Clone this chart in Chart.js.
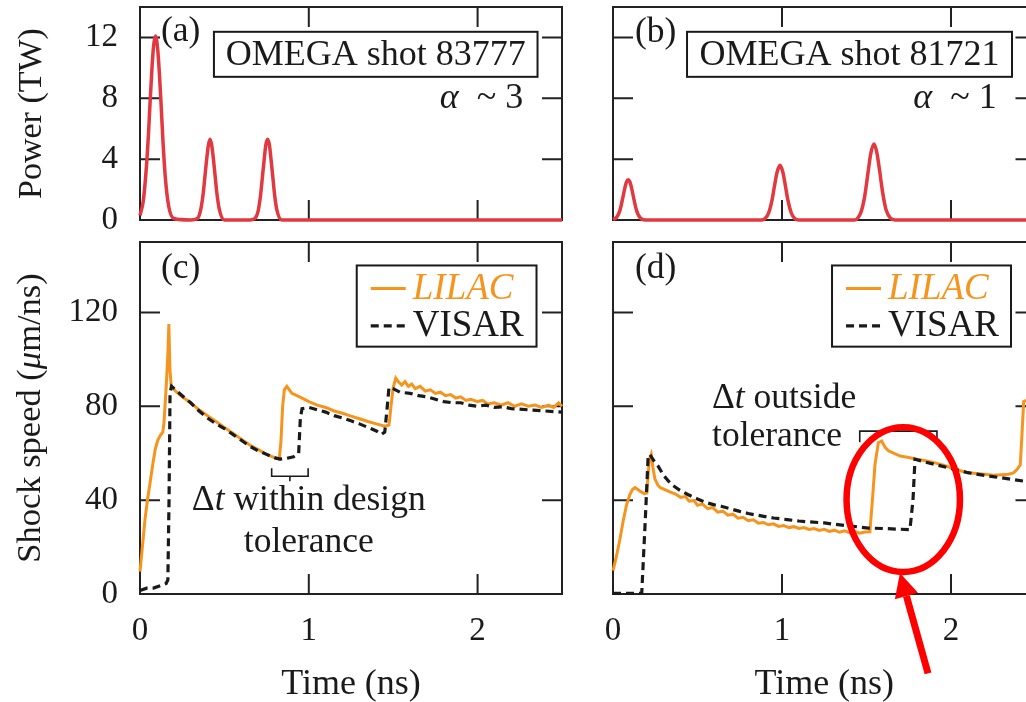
<!DOCTYPE html>
<html>
<head>
<meta charset="utf-8">
<script src="https://cdn.jsdelivr.net/npm/chart.js@4.4.1/dist/chart.umd.min.js"></script>
<style>
  html, body { margin: 0; padding: 0; background: #fff; overflow: hidden; width: 1026px; height: 702px; }
  canvas { position: absolute; }
  #pa { left: 0; top: 0; }
  #pb { left: 580px; top: 0; }
  #pc { left: 0; top: 230px; }
  #pd { left: 580px; top: 230px; }
</style>
</head>
<body>
<canvas id="pa" width="600" height="245"></canvas>
<canvas id="pb" width="470" height="245"></canvas>
<canvas id="pc" width="600" height="472"></canvas>
<canvas id="pd" width="470" height="472"></canvas>
<script>
// ticks
const timeTicks = [0, 1, 2];
const powerTicks = [0, 4, 8, 12];
const speedTicks = [0, 40, 80, 120];

// (a) laser power, shot 83777
const powerTimeA = [0, 0.02, 0.04, 0.05, 0.06, 0.07, 0.08, 0.092, 0.105, 0.115, 0.125, 0.135, 0.15, 0.17, 0.2, 0.3,
    0.34, 0.36, 0.375, 0.385, 0.395, 0.405, 0.415, 0.425, 0.435, 0.445, 0.455, 0.47, 0.5, 0.65,
    0.68, 0.7, 0.715, 0.725, 0.735, 0.745, 0.756, 0.767, 0.777, 0.787, 0.797, 0.81, 0.84, 1.0, 1.5, 2.0, 2.5];
const powerA = [0.3, 1.3, 3.8, 5.6, 7.8, 9.8, 11.4, 12.1, 11.2, 9.6, 7.6, 5.4, 2.8, 0.9, 0.1, 0,
    0.1, 0.7, 1.8, 2.9, 4.0, 4.9, 5.3, 4.9, 4.0, 2.9, 1.8, 0.7, 0, 0,
    0.1, 0.6, 1.7, 2.8, 3.9, 4.9, 5.3, 4.9, 3.9, 2.8, 1.7, 0.7, 0, 0, 0, 0, 0];

// (b) laser power, shot 81721
const powerTimeB = [0, 0.02, 0.04, 0.055, 0.07, 0.08, 0.09, 0.1, 0.11, 0.125, 0.14, 0.16, 0.19, 0.5, 0.88,
    0.9, 0.92, 0.94, 0.955, 0.97, 0.988, 1.005, 1.02, 1.035, 1.055, 1.075, 1.1, 1.43,
    1.45, 1.47, 1.49, 1.51, 1.525, 1.544, 1.56, 1.575, 1.595, 1.615, 1.64, 1.67, 2.0, 2.5];
const powerB = [0.05, 0.15, 0.6, 1.3, 2.1, 2.5, 2.65, 2.5, 2.1, 1.3, 0.6, 0.15, 0, 0, 0,
    0.1, 0.43, 1.25, 2.2, 3.1, 3.6, 3.15, 2.25, 1.3, 0.46, 0.1, 0, 0,
    0.15, 0.6, 1.6, 3.2, 4.35, 5.0, 4.5, 3.45, 1.85, 0.7, 0.14, 0, 0, 0];

// (c) shock speed, shot 83777
const lilacTimeC = [0, 0.01, 0.02, 0.03, 0.045, 0.06, 0.075, 0.09, 0.105, 0.12, 0.135, 0.142, 0.155, 0.165, 0.171, 0.177, 0.185,
    0.21, 0.25, 0.3, 0.35, 0.4, 0.45, 0.5, 0.55, 0.6, 0.65, 0.7, 0.75, 0.8, 0.825,
    0.835, 0.845, 0.855, 0.87, 0.885, 0.9, 0.93, 0.96, 1.0, 1.05, 1.1, 1.15, 1.2, 1.25, 1.3, 1.35, 1.4, 1.45, 1.475,
    1.49, 1.5, 1.515, 1.53, 1.55, 1.57, 1.59, 1.61, 1.63, 1.66, 1.69, 1.72, 1.75, 1.78, 1.81, 1.84, 1.87, 1.9,
    1.93, 1.96, 2.0, 2.03, 2.06, 2.1, 2.14, 2.18, 2.22, 2.26, 2.3, 2.34, 2.38, 2.42, 2.45, 2.48, 2.5];
const lilacC = [9.5, 17, 24.5, 32, 40.5, 47.5, 55, 61.5, 65.5, 67.5, 69, 73, 88, 102, 115, 96, 88.5,
    86.5, 84, 81.5, 78.5, 76, 73.5, 71, 68.5, 66, 63.5, 61.5, 59.5, 58, 57.5,
    65, 80, 87, 88.5, 87, 85.5, 84.5, 83.5, 82, 80.5, 79.5, 78, 77, 75.8, 74.7, 73.5, 72.5, 71.5, 72,
    82, 88, 92, 90.5, 89, 90.5, 88.5, 89.5, 87.5, 88.5, 86.5, 87, 85.5, 86, 84.5, 85, 83.5, 84,
    82.5, 83, 82, 82.5, 81, 81.5, 80.5, 81.5, 80, 81, 80, 80.5, 79.5, 80.5, 79.5, 81.5, 80];
const visarTimeC = [0, 0.04, 0.08, 0.12, 0.155, 0.165, 0.172, 0.178, 0.187, 0.21, 0.25, 0.3, 0.35, 0.4, 0.45, 0.5,
    0.55, 0.6, 0.65, 0.7, 0.75, 0.8, 0.83, 0.87, 0.91, 0.94, 0.95, 0.96, 1.0, 1.05, 1.1, 1.15, 1.2,
    1.25, 1.3, 1.35, 1.4, 1.43, 1.45, 1.465, 1.475, 1.5, 1.54, 1.6, 1.65, 1.7, 1.75, 1.8, 1.85, 1.9,
    1.95, 2.0, 2.05, 2.1, 2.15, 2.2, 2.3, 2.4, 2.5];
const visarC = [1.5, 2.5, 2.5, 3.5, 4.5, 6, 40, 86, 88.5, 87, 84.5, 81.5, 78, 75, 72.5, 70.5,
    68, 65.5, 63, 61, 59.5, 58, 57.5, 57.8, 58.5, 60, 75, 79, 79.5, 78.5, 77.5, 76, 75,
    73.8, 72.5, 71, 69.5, 68, 69, 80, 88, 87.5, 86, 85.5, 84.5, 84, 83, 82, 81.5, 81.5,
    80.5, 80, 80.5, 79.5, 79.8, 79, 78.5, 78, 77.5];

// (d) shock speed, shot 81721
const lilacTimeD = [0, 0.02, 0.04, 0.06, 0.08, 0.1, 0.115, 0.13, 0.145, 0.165, 0.185, 0.2, 0.207, 0.215, 0.226, 0.236,
    0.248, 0.265, 0.28, 0.31, 0.34, 0.37, 0.4, 0.43, 0.45, 0.48, 0.5, 0.53, 0.56, 0.59, 0.62, 0.65, 0.68,
    0.71, 0.74, 0.77, 0.8, 0.83, 0.86, 0.89, 0.92, 0.95, 0.98, 1.01, 1.04, 1.07, 1.1, 1.13, 1.16, 1.19,
    1.22, 1.25, 1.28, 1.31, 1.34, 1.37, 1.4, 1.43, 1.46, 1.49, 1.52, 1.535, 1.55, 1.57, 1.59, 1.61, 1.63,
    1.66, 1.7, 1.75, 1.8, 1.85, 1.9, 1.95, 2.0, 2.05, 2.1, 2.15, 2.2, 2.25, 2.3, 2.34, 2.37, 2.39, 2.41,
    2.42, 2.43, 2.5];
const lilacD = [10, 16, 23, 31, 38, 42.4, 44.5, 45.3, 44.6, 43.6, 42.8, 43, 50, 57.4, 59.5, 54,
    49, 46.5, 45.3, 44.4, 43.4, 42.6, 41.2, 41.5, 39.6, 39.8, 37.8, 38.3, 36.4, 36.8, 34.9, 35.3, 33.6,
    34, 32.3, 32.7, 31.2, 31.6, 30.2, 30.5, 29.5, 29.9, 28.8, 29.2, 28.3, 28.7, 27.9, 28.3, 27.5, 27.9,
    27.1, 27.6, 26.7, 27.2, 26.3, 26.9, 26.1, 26.6, 25.9, 26.4, 26.5, 40, 55, 64.5, 65.2, 62.5, 61,
    60, 58.8, 58.2, 57.4, 56.8, 56, 55, 53.8, 52.6, 51.7, 51.4, 51, 50.6, 50.8, 51, 51.6, 53, 55,
    68, 82, 84];
const visarTimeD = [0, 0.1, 0.17, 0.19, 0.208, 0.218, 0.24, 0.267, 0.3, 0.345, 0.4, 0.443, 0.5, 0.55, 0.6, 0.64,
    0.7, 0.75, 0.8, 0.835, 0.9, 0.95, 1.03, 1.1, 1.15, 1.25, 1.3, 1.4, 1.51, 1.6, 1.7, 1.757, 1.775,
    1.787, 1.85, 1.9, 2.0, 2.1, 2.2, 2.3, 2.43, 2.5];
const visarD = [0.3, 0.3, 0.3, 30, 58.8, 59.5, 57, 54.5, 50.5, 46.7, 44, 42.4, 40.5, 39, 38, 37.4,
    36.2, 35.2, 34.3, 33.8, 33, 32.4, 31.7, 31.1, 30.8, 30.3, 29.8, 29, 28.1, 27.9, 27.6, 27.4, 40,
    57.4, 56.2, 55.3, 53.5, 51.7, 50.5, 49.5, 48.1, 47.5];

const SERIF = "'Liberation Serif', 'Times New Roman', serif";
const INK = '#1a1a1a';
const RED = '#e2383f';
const ORANGE = '#f7941d';

Chart.defaults.font.family = SERIF;
Chart.defaults.font.size = 33;
Chart.defaults.color = INK;

function pts(t, v) {
    return t.map((x, i) => ({ x: x, y: v[i] }));
}

function richText(ctx, parts, x, y, align, size) {
    size = size || 35.5;
    let w = 0;
    parts.forEach(p => {
        ctx.font = (p.i ? 'italic ' : '') + size + 'px ' + SERIF;
        p.w = ctx.measureText(p.t).width;
        w += p.w;
    });
    let cx = align === 'center' ? x - w / 2 : align === 'right' ? x - w : x;
    ctx.textBaseline = 'middle';
    ctx.textAlign = 'left';
    parts.forEach(p => {
        ctx.font = (p.i ? 'italic ' : '') + size + 'px ' + SERIF;
        ctx.fillStyle = p.c || INK;
        ctx.fillText(p.t, cx, y);
        cx += p.w;
    });
    return w;
}

// frame with inward ticks on all four sides
const framePlugin = {
    id: 'frame',
    beforeDatasetsDraw(chart) {
        const { ctx, chartArea: a, scales: { x, y } } = chart;
        ctx.save();
        ctx.strokeStyle = '#222';
        ctx.lineWidth = 2;
        ctx.strokeRect(a.left, a.top, a.right - a.left, a.bottom - a.top);
        ctx.beginPath();
        x.ticks.forEach(t => {
            const px = x.getPixelForValue(t.value);
            if (px <= a.left + 2 || px >= a.right - 2) return;
            ctx.moveTo(px, a.bottom); ctx.lineTo(px, a.bottom - 20);
            ctx.moveTo(px, a.top); ctx.lineTo(px, a.top + 20);
        });
        y.ticks.forEach(t => {
            const py = y.getPixelForValue(t.value);
            if (py <= a.top + 2 || py >= a.bottom - 2) return;
            ctx.moveTo(a.left, py); ctx.lineTo(a.left + 20, py);
            ctx.moveTo(a.right, py); ctx.lineTo(a.right - 20, py);
        });
        ctx.stroke();
        ctx.restore();
    }
};

function makeOptions(opt) {
    return {
        responsive: false,
        animation: false,
        devicePixelRatio: 1,
        layout: { padding: { top: opt.top, right: opt.right, left: 0, bottom: 0 } },
        plugins: { legend: { display: false }, tooltip: { enabled: false } },
        elements: { point: { radius: 0 } },
        scales: {
            x: {
                type: 'linear', min: 0, max: 2.5,
                afterBuildTicks: s => { s.ticks = timeTicks.map(v => ({ value: v })); },
                afterFit: s => { s.height = opt.xHeight; s.paddingLeft = 0; s.paddingRight = 0; },
                grid: { display: false, drawTicks: false },
                border: { display: false },
                ticks: { display: opt.xLabels, padding: 18, maxRotation: 0 },
                title: {
                    display: opt.xLabels, text: 'Time (ns)',
                    font: { size: 36, lineHeight: 1 }, padding: { top: 0, bottom: -1 }
                }
            },
            y: {
                min: 0, max: opt.ymax,
                afterBuildTicks: s => { s.ticks = opt.yTicks.map(v => ({ value: v })); },
                afterFit: s => { s.width = opt.yWidth; s.paddingTop = 0; s.paddingBottom = 0; },
                grid: { display: false, drawTicks: false },
                border: { display: false },
                ticks: { display: opt.yLabels, padding: 22 },
                title: {
                    display: !!opt.yTitle, text: opt.yTitle || '',
                    font: { size: 34, lineHeight: 1.2 }, padding: { top: 12, bottom: 0 }
                }
            }
        }
    };
}

function powerDataset(t, v) {
    return { data: pts(t, v), borderColor: RED, borderWidth: 3.5, cubicInterpolationMode: 'monotone', clip: 4 };
}

function speedDatasets(lt, lv, vt, vv) {
    return [
        { label: 'LILAC', data: pts(lt, lv), borderColor: ORANGE, borderWidth: 3, tension: 0, order: 2, clip: 3 },
        { label: 'VISAR', data: pts(vt, vv), borderColor: INK, borderWidth: 3.2, borderDash: [8, 5], tension: 0, order: 1, clip: 3 }
    ];
}

function drawShotBox(chart, label, alpha, xs) {
    const { ctx, scales: { x, y } } = chart;
    ctx.save();
    const l = x.getPixelForValue(xs[0]), r = x.getPixelForValue(xs[1]);
    const t = y.getPixelForValue(12.37), b = y.getPixelForValue(9.41);
    ctx.fillStyle = '#fff';
    ctx.fillRect(l, t, r - l, b - t);
    ctx.strokeStyle = INK;
    ctx.lineWidth = 2;
    ctx.strokeRect(l, t, r - l, b - t);
    richText(ctx, [{ t: label }], (l + r) / 2, (t + b) / 2 + 1, 'center', 36);
    richText(ctx, [{ t: 'α', i: true }, { t: '  ~ ' + alpha }], x.getPixelForValue(2.27), y.getPixelForValue(8.0), 'right', 36);
    ctx.restore();
}

function drawLegend(chart, x0, x1) {
    const { ctx, scales: { x, y } } = chart;
    const l = x.getPixelForValue(x0), r = x.getPixelForValue(x1);
    const t = y.getPixelForValue(140), b = y.getPixelForValue(105.4);
    ctx.save();
    ctx.fillStyle = '#fff';
    ctx.fillRect(l, t, r - l, b - t);
    ctx.strokeStyle = INK;
    ctx.lineWidth = 2;
    ctx.strokeRect(l, t, r - l, b - t);
    const rows = [130.2, 114.3];
    chart.data.datasets.forEach((ds, i) => {
        const py = y.getPixelForValue(rows[i]);
        ctx.beginPath();
        ctx.strokeStyle = ds.borderColor;
        ctx.lineWidth = ds.borderWidth;
        ctx.setLineDash(ds.borderDash || []);
        ctx.moveTo(l + 14, py);
        ctx.lineTo(l + 49, py);
        ctx.stroke();
        ctx.setLineDash([]);
        const lilac = ds.label === 'LILAC';
        richText(ctx, [{ t: ds.label, i: lilac, c: lilac ? ORANGE : INK }], l + 56, py + 1, 'left', 37);
    });
    ctx.restore();
}

function drawLabel(chart, text, tx, vy) {
    const { ctx, scales: { x, y } } = chart;
    ctx.save();
    richText(ctx, [{ t: text }], x.getPixelForValue(tx), y.getPixelForValue(vy), 'left');
    ctx.restore();
}

new Chart(document.getElementById('pa'), {
    type: 'line',
    data: { datasets: [powerDataset(powerTimeA, powerA)] },
    options: makeOptions({ top: 7, right: 38, xHeight: 25, yWidth: 140, ymax: 14, yTicks: powerTicks,
        xLabels: false, yLabels: true, yTitle: 'Power (TW)' }),
    plugins: [framePlugin, {
        id: 'decoA',
        afterDraw(chart) {
            drawLabel(chart, '(a)', 0.124, 12.4);
            drawShotBox(chart, 'OMEGA shot 83777', '3', [0.438, 2.355]);
        }
    }]
});

new Chart(document.getElementById('pb'), {
    type: 'line',
    data: { datasets: [powerDataset(powerTimeB, powerB)] },
    options: makeOptions({ top: 7, right: 14.5, xHeight: 25, yWidth: 33, ymax: 14, yTicks: powerTicks,
        xLabels: false, yLabels: false }),
    plugins: [framePlugin, {
        id: 'decoB',
        afterDraw(chart) {
            drawLabel(chart, '(b)', 0.13, 12.3);
            drawShotBox(chart, 'OMEGA shot 81721', '1', [0.438, 2.361]);
        }
    }]
});

function drawBracket(ctx, l, r, py, endDy, mid, midDy) {
    ctx.beginPath();
    ctx.moveTo(l, py + endDy); ctx.lineTo(l, py); ctx.lineTo(r, py); ctx.lineTo(r, py + endDy);
    ctx.moveTo(mid, py); ctx.lineTo(mid, py + midDy);
    ctx.stroke();
}

function drawSpeedTitle(chart) {
    const { ctx, chartArea: a } = chart;
    ctx.save();
    ctx.translate(31, (a.top + a.bottom) / 2);
    ctx.rotate(-Math.PI / 2);
    richText(ctx, [{ t: 'Shock speed (' }, { t: 'μ', i: true }, { t: 'm/ns)' }], 0, 0, 'center', 34.5);
    ctx.restore();
}

new Chart(document.getElementById('pc'), {
    type: 'line',
    data: { datasets: speedDatasets(lilacTimeC, lilacC, visarTimeC, visarC) },
    options: makeOptions({ top: 12, right: 38, xHeight: 108, yWidth: 140, ymax: 150, yTicks: speedTicks,
        xLabels: true, yLabels: true }),
    plugins: [framePlugin, {
        id: 'decoC',
        afterDraw(chart) {
            const { ctx, scales: { x, y } } = chart;
            drawSpeedTitle(chart);
            drawLabel(chart, '(c)', 0.124, 138.8);
            drawLegend(chart, 1.284, 2.349);
            ctx.save();
            richText(ctx, [{ t: 'Δ' }, { t: 't', i: true }, { t: ' within design' }], x.getPixelForValue(1.0), y.getPixelForValue(39.8), 'center');
            richText(ctx, [{ t: 'tolerance' }], x.getPixelForValue(1.0), y.getPixelForValue(21.8), 'center');
            ctx.strokeStyle = INK;
            ctx.lineWidth = 1.6;
            drawBracket(ctx, x.getPixelForValue(0.78), x.getPixelForValue(0.996), y.getPixelForValue(50.2), -8,
                x.getPixelForValue(0.888), 5);
            ctx.restore();
        }
    }]
});

new Chart(document.getElementById('pd'), {
    type: 'line',
    data: { datasets: speedDatasets(lilacTimeD, lilacD, visarTimeD, visarD) },
    options: makeOptions({ top: 12, right: 14.5, xHeight: 108, yWidth: 33, ymax: 150, yTicks: speedTicks,
        xLabels: true, yLabels: false }),
    plugins: [framePlugin, {
        id: 'decoD',
        afterDraw(chart) {
            const { ctx, scales: { x, y } } = chart;
            drawLabel(chart, '(d)', 0.13, 138.8);
            drawLegend(chart, 1.296, 2.355);
            ctx.save();
            richText(ctx, [{ t: 'Δ' }, { t: 't', i: true }, { t: ' outside' }], x.getPixelForValue(0.586), y.getPixelForValue(83.1), 'left');
            richText(ctx, [{ t: 'tolerance' }], x.getPixelForValue(0.586), y.getPixelForValue(67.2), 'left');
            ctx.strokeStyle = INK;
            ctx.lineWidth = 1.6;
            drawBracket(ctx, x.getPixelForValue(1.46), x.getPixelForValue(1.917), y.getPixelForValue(69.4), 11,
                x.getPixelForValue(1.688), -5);

            // red highlight ellipse and arrow
            const cx = (x.getPixelForValue(1.382) + x.getPixelForValue(2.053)) / 2;
            const cy = (y.getPixelForValue(71.1) + y.getPixelForValue(9.4)) / 2;
            const rx = (x.getPixelForValue(2.053) - x.getPixelForValue(1.382)) / 2;
            const ry = (y.getPixelForValue(9.4) - y.getPixelForValue(71.1)) / 2;
            ctx.strokeStyle = '#ff0000';
            ctx.lineWidth = 6.5;
            ctx.beginPath();
            ctx.ellipse(cx, cy, rx, ry, 0, 0, Math.PI * 2);
            ctx.stroke();

            const tipX = x.getPixelForValue(1.698), tipY = y.getPixelForValue(9);
            const tailX = x.getPixelForValue(1.864), tailY = y.getPixelForValue(-33.8);
            const ang = Math.atan2(tipY - tailY, tipX - tailX);
            const headLen = 24, headW = 12;
            const bx = tipX - headLen * Math.cos(ang), by = tipY - headLen * Math.sin(ang);
            ctx.lineWidth = 7;
            ctx.beginPath();
            ctx.moveTo(tailX, tailY);
            ctx.lineTo(bx, by);
            ctx.stroke();
            ctx.fillStyle = '#ff0000';
            ctx.beginPath();
            ctx.moveTo(tipX, tipY);
            ctx.lineTo(bx + headW * Math.sin(ang), by - headW * Math.cos(ang));
            ctx.lineTo(bx - headW * Math.sin(ang), by + headW * Math.cos(ang));
            ctx.closePath();
            ctx.fill();
            ctx.restore();
        }
    }]
});
</script>
</body>
</html>
